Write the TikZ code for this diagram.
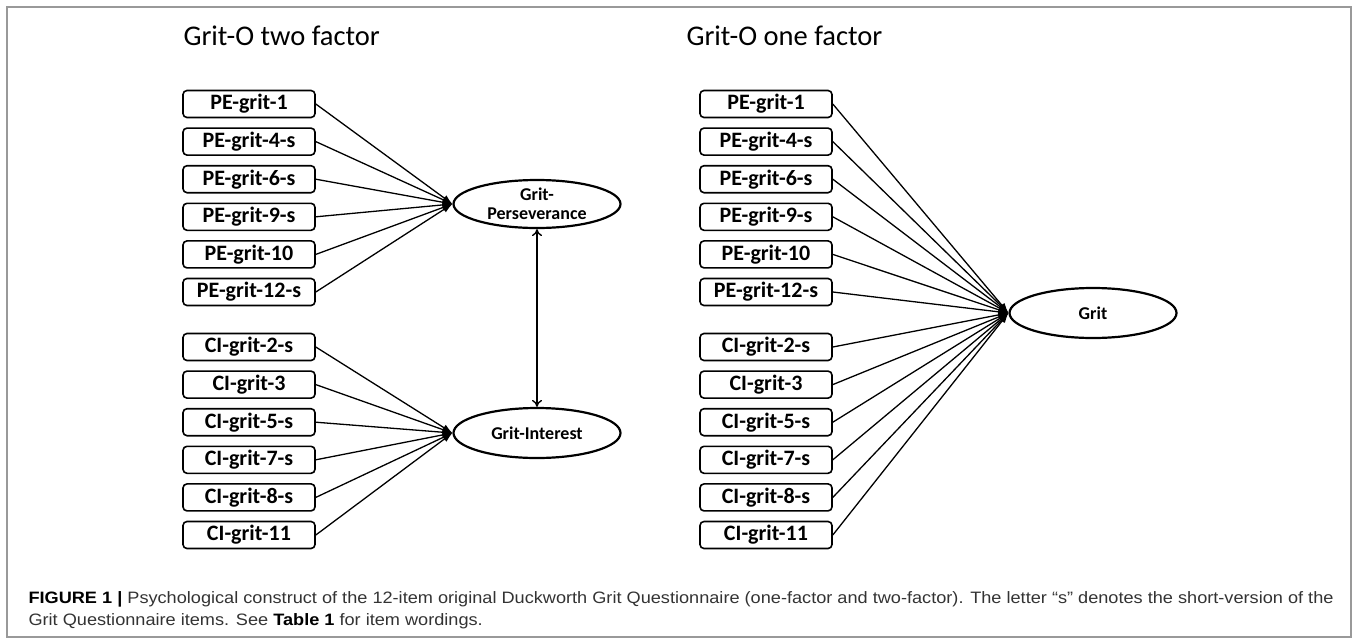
\documentclass[tikz,border=0pt]{standalone}
\usepackage{fontspec}
\setmainfont{Carlito}
\newfontfamily\capfont[FakeStretch=1.1]{Liberation Sans}
\usetikzlibrary{positioning, shapes, arrows.meta}

\begin{document}
\begin{tikzpicture}[x=1pt, y=-1pt,
        item/.style={draw, rounded corners=4pt, line width=1.6pt, minimum width=132pt, minimum height=27pt, inner sep=0pt, font=\fontsize{22}{22}\selectfont\bfseries},
        factor/.style={draw, ellipse, line width=2.2pt, minimum width=167pt, minimum height=48pt, inner sep=0pt, align=center, font=\fontsize{18}{19}\selectfont\bfseries},
        load/.style={-{Latex[length=10pt, width=7pt]}, line width=1.3pt},
        heading/.style={anchor=base west, font=\fontsize{28.5}{28.5}\selectfont},
        captext/.style={anchor=base west, text=black!80, font=\capfont\fontsize{16.5}{16.5}\selectfont}]
        \useasboundingbox (0,0) rectangle (1357,643);
        \draw[gray!80, line width=1.3pt] (7,7) rectangle (1351,637);

        % two factor model
        \node[heading] (title2) at (180,45) {Grit-O two factor};
        \foreach \lab [count=\i] in {PE-grit-1, PE-grit-4-s, PE-grit-6-s, PE-grit-9-s, PE-grit-10, PE-grit-12-s}
        \node[item] (lpe\i) at (249, {104+37.6*(\i-1)}) {\lab};
        \foreach \lab [count=\i] in {CI-grit-2-s, CI-grit-3, CI-grit-5-s, CI-grit-7-s, CI-grit-8-s, CI-grit-11}
        \node[item] (lci\i) at (249, {347+37.6*(\i-1)}) {\lab};

        \node[factor] (pers) at (537,204) {Grit-\\Perseverance};
        \node[factor, minimum height=50pt] (inter) at (537,433) {Grit-Interest};

        \foreach \i in {1,...,6}
        \draw[load] (lpe\i.east) -- (pers.west);
        \foreach \i in {1,...,6}
        \draw[load] (lci\i.east) -- (inter.west);
        \draw[{To[length=7pt, width=10pt]}-{To[length=7pt, width=10pt]}, line width=1.4pt] (pers.south) -- (inter.north);

        % one factor model
        \node[heading] (title1) at (683,45) {Grit-O one factor};
        \foreach \lab [count=\i] in {PE-grit-1, PE-grit-4-s, PE-grit-6-s, PE-grit-9-s, PE-grit-10, PE-grit-12-s}
        \node[item] (rpe\i) at (766, {104+37.6*(\i-1)}) {\lab};
        \foreach \lab [count=\i] in {CI-grit-2-s, CI-grit-3, CI-grit-5-s, CI-grit-7-s, CI-grit-8-s, CI-grit-11}
        \node[item] (rci\i) at (766, {347+37.6*(\i-1)}) {\lab};

        \node[factor, minimum height=50pt] (grit) at (1093,313) {Grit};

        \foreach \i in {1,...,6}
        \draw[load] (rpe\i.east) -- (grit.west);
        \foreach \i in {1,...,6}
        \draw[load] (rci\i.east) -- (grit.west);

        % caption
        \node[captext] (cap1) at (25,603) {\textbf{\color{black}FIGURE 1 |} Psychological construct of the 12-item original Duckworth Grit Questionnaire (one-factor and two-factor). The letter “s” denotes the short-version of the};
        \node[captext] (cap2) at (25,625) {Grit Questionnaire items. See \textbf{\color{black}Table 1} for item wordings.};
    \end{tikzpicture}
\end{document}
